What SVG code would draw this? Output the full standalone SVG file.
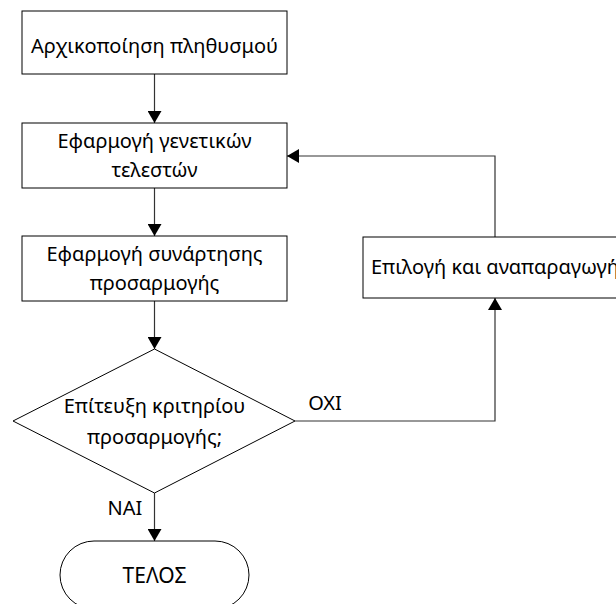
<svg xmlns="http://www.w3.org/2000/svg" width="616" height="604" viewBox="0 0 616 604">
  <style>
    .box { fill: #ffffff; stroke: #000000; stroke-width: 1; }
    .lbl { font-family: "Noto Sans", "DejaVu Sans", sans-serif; font-size: 20px; fill: #000000; text-anchor: middle; }
    .edge { fill: none; stroke: #333333; stroke-width: 1.2; }
  </style>
  <defs>
    <marker id="arrow" viewBox="0 0 12 14" refX="12" refY="7" markerWidth="12" markerHeight="14" markerUnits="userSpaceOnUse" orient="auto">
      <path d="M0,0 L12,7 L0,14 Z" fill="#000000"/>
    </marker>
  </defs>

  <rect width="616" height="604" fill="#ffffff"/>

  <g id="connectors">
    <path class="edge" d="M154.5,74 V123" marker-end="url(#arrow)"/>
    <path class="edge" d="M154.5,188 V236" marker-end="url(#arrow)"/>
    <path class="edge" d="M154.5,301 V349" marker-end="url(#arrow)"/>
    <path class="edge" d="M295,421 H495 V298" marker-end="url(#arrow)"/>
    <path class="edge" d="M495,237 V156 H287" marker-end="url(#arrow)"/>
    <path class="edge" d="M154.5,493 V541" marker-end="url(#arrow)"/>
    <text class="lbl" x="325" y="410">ΟΧΙ</text>
    <text class="lbl" x="125" y="515">ΝΑΙ</text>
  </g>

  <g id="init">
    <rect class="box" x="22" y="11" width="265" height="63"/>
    <text class="lbl" x="154.5" y="53">Αρχικοποίηση πληθυσμού</text>
  </g>

  <g id="operators">
    <rect class="box" x="22" y="123" width="265" height="65"/>
    <text class="lbl" x="154.5" y="148">Εφαρμογή γενετικών</text>
    <text class="lbl" x="154.5" y="177">τελεστών</text>
  </g>

  <g id="fitness">
    <rect class="box" x="22" y="236" width="265" height="65"/>
    <text class="lbl" x="154.5" y="261">Εφαρμογή συνάρτησης</text>
    <text class="lbl" x="154.5" y="290">προσαρμογής</text>
  </g>

  <g id="selection">
    <rect class="box" x="363" y="237" width="300" height="61"/>
    <text class="lbl" x="371" y="274" style="text-anchor:start">Επιλογή και αναπαραγωγή</text>
  </g>

  <g id="criterion">
    <polygon class="box" points="154.5,349 295,421 154.5,493 13,421"/>
    <text class="lbl" x="154.5" y="413">Επίτευξη κριτηρίου</text>
    <text class="lbl" x="154.5" y="444">προσαρμογής;</text>
  </g>

  <g id="end">
    <rect class="box" x="60" y="541" width="189" height="68" rx="34" ry="34"/>
    <text class="lbl" x="154.5" y="583" style="font-size:21px">ΤΕΛΟΣ</text>
  </g>
</svg>
